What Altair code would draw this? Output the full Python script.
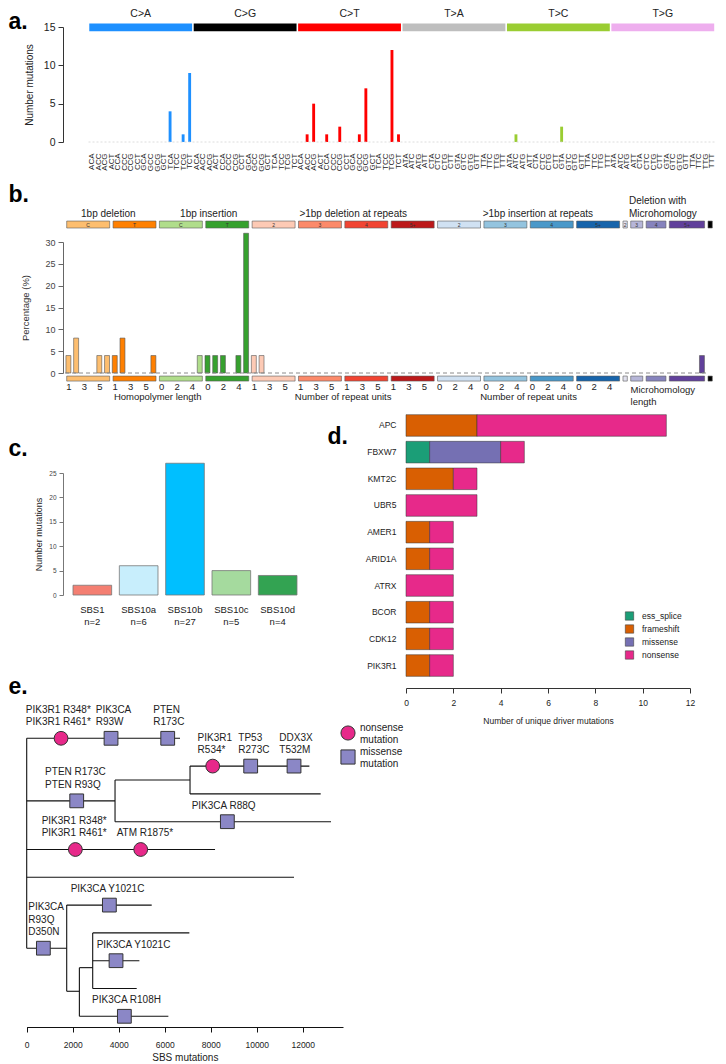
import altair as alt
import pandas as pd

FONT = "Liberation Sans"
TXT = "#222222"

# ================= a. SBS96 profile =================
sbs_types = ["C>A", "C>G", "C>T", "T>A", "T>C", "T>G"]
sbs_colors = ["#1E90FF", "#000000", "#FF0000", "#BEBEBE", "#9ACD32", "#EEAEEE"]
flank_bases = ["A", "C", "G", "T"]
sbs_CA = [0, 0, 0, 0, 0, 0, 0, 0, 0, 0, 0, 0, 4, 0, 1, 9]
sbs_CG = [0, 0, 0, 0, 0, 0, 0, 0, 0, 0, 0, 0, 0, 0, 0, 0]
sbs_CT = [0, 1, 5, 0, 1, 0, 2, 0, 0, 1, 7, 0, 0, 0, 12, 1]
sbs_TA = [0, 0, 0, 0, 0, 0, 0, 0, 0, 0, 0, 0, 0, 0, 0, 0]
sbs_TC = [0, 1, 0, 0, 0, 0, 0, 0, 2, 0, 0, 0, 0, 0, 0, 0]
sbs_TG = [0, 0, 0, 0, 0, 0, 0, 0, 0, 0, 0, 0, 0, 0, 0, 0]

# ================= b. ID83 profile =================
id_groups = ["del1_C", "del1_T", "ins1_C", "ins1_T", "delr_2", "delr_3", "delr_4", "delr_5",
             "insr_2", "insr_3", "insr_4", "insr_5", "mh_2", "mh_3", "mh_4", "mh_5"]
id_box_text = ["C", "T", "C", "T", "2", "3", "4", "5+", "2", "3", "4", "5+", "2", "3", "4", "5+"]
id_colors = ["#FDBE6F", "#FF8001", "#B0DD8B", "#36A12E", "#FDCAB5", "#FC8A6A", "#F14432", "#BC191A",
             "#D0E1F2", "#94C4DF", "#4A98C9", "#1764AB", "#E2E2EF", "#B6B6D8", "#8683BD", "#61409B"]
id_is_deletion = [True, True, False, False, True, True, True, True,
                  False, False, False, False, True, True, True, True]
id_pct = [
    [4, 8, 0, 0, 4, 4],
    [4, 8, 0, 0, 0, 4],
    [0, 0, 0, 0, 0, 4],
    [4, 4, 4, 0, 4, 32],
    [4, 4, 0, 0, 0, 0],
    [0, 0, 0, 0, 0, 0],
    [0, 0, 0, 0, 0, 0],
    [0, 0, 0, 0, 0, 0],
    [0, 0, 0, 0, 0, 0],
    [0, 0, 0, 0, 0, 0],
    [0, 0, 0, 0, 0, 0],
    [0, 0, 0, 0, 0, 0],
    [0],
    [0, 0],
    [0, 0, 0],
    [0, 0, 0, 0, 4],
]
id_group_titles = ["1bp deletion", "1bp insertion", ">1bp deletion at repeats", ">1bp insertion at repeats"]
id_group_title_x = [5.6, 18.6, 37.3, 61.2]
id_axis_titles = ["Homopolymer length", "Number of repeat units", "Number of repeat units"]
id_axis_title_x = [12, 36, 60]

# ================= c. signature contributions =================
c_sigs = ["SBS1", "SBS10a", "SBS10b", "SBS10c", "SBS10d"]
c_counts = [2, 6, 27, 5, 4]
c_colors = ["#F47F72", "#C8EEFC", "#00BFFF", "#A5DA9E", "#33A352"]

# ================= d. driver mutations =================
genes = ["APC", "FBXW7", "KMT2C", "UBR5", "AMER1", "ARID1A", "ATRX", "BCOR", "CDK12", "PIK3R1"]
drv_types = ["ess_splice", "frameshift", "missense", "nonsense"]
drv_colors = ["#1B9E77", "#D95F02", "#7570B3", "#E7298A"]
drv_ess_splice = [0, 1, 0, 0, 0, 0, 0, 0, 0, 0]
drv_frameshift = [3, 0, 2, 0, 1, 1, 0, 1, 1, 1]
drv_missense = [0, 3, 0, 0, 0, 0, 0, 0, 0, 0]
drv_nonsense = [8, 1, 1, 3, 1, 1, 2, 1, 1, 1]

# ================= e. phylogenetic tree =================
e_h_start = [0, 0, 3840, 7100, 7100, 3840, 0, 0, 0, 1739, 1739, 2290, 2869, 2869, 2869, 2290]
e_h_end = [6666, 3840, 7100, 12288, 12780, 13230, 8187, 11621, 1739, 5434, 2290, 2869, 7071, 4898, 4782, 6158]
e_h_row = [0, 2.25, 1.5, 1, 2, 3, 4, 5, 7.55, 6, 9.1, 8.25, 7, 8, 9, 10]
e_v_pos = [0, 3840, 7100, 1739, 2290, 2869]
e_v_from = [0, 1.5, 1, 6, 8.25, 7]
e_v_to = [7.55, 3, 2, 9.1, 10, 9]
e_mut_pos = [1493, 3666, 6130, 2174, 8086, 9737, 11621, 8723, 2116, 4956, 725, 3594, 3883, 4246]
e_mut_row = [0, 0, 0, 2.25, 1, 1, 1, 3, 4, 4, 7.55, 6, 8, 10]
e_mut_type = ["nonsense", "missense", "missense", "missense", "nonsense", "missense", "missense",
              "missense", "nonsense", "nonsense", "missense", "missense", "missense", "missense"]
e_label_text = ["PIK3R1 R348*\nPIK3R1 R461*", "PIK3CA\nR93W", "PTEN\nR173C", "PIK3R1\nR534*",
                "TP53\nR273C", "DDX3X\nT532M", "PTEN R173C\nPTEN R93Q", "PIK3CA R88Q",
                "PIK3R1 R348*\nPIK3R1 R461*", "ATM R1875*", "PIK3CA Y1021C", "PIK3CA\nR93Q\nD350N",
                "PIK3CA Y1021C", "PIK3CA R108H"]
e_label_pos = [-40, 3000, 5500, 7430, 9200, 10980, 800, 7170, 650, 3910, 1910, 70, 3040, 2840]
e_label_row = [0, 0, 0, 1, 1, 1, 2.25, 3, 4, 4, 6, 7.55, 8, 10]

# ---------------------------------------------------------------------------
# One canvas: every panel has its own scales whose pixel ranges place it on the
# page (origin = left edge of the y axes of panels a-c, top of panel a's plot).
W, H = 652, 1000
LETTER = dict(titleAngle=0, titleAlign="left", titleBaseline="top", titleFontSize=23,
              titleFontWeight="bold", titleColor="#000000", titleFont=FONT)

# ---------- a ----------
sbs_all = [sbs_CA, sbs_CG, sbs_CT, sbs_TA, sbs_TC, sbs_TG]
a_rows, contexts = [], []
for ti, (mt, cnts) in enumerate(zip(sbs_types, sbs_all)):
    for k, c in enumerate(cnts):
        ctx = flank_bases[k // 4] + mt[0] + flank_bases[k % 4]
        contexts.append(ctx)
        i = ti * 16 + k
        a_rows.append({"ctx": ctx, "type": mt, "n": c, "z": 0, "xs": i + 0.28, "xe": i + 0.72})
df_a = pd.DataFrame(a_rows)
df_a_bars = df_a[df_a["n"] > 0]
df_a_head = pd.DataFrame({
    "type": sbs_types,
    "xs": [16 * i + 0.12 for i in range(6)],
    "xe": [16 * i + 15.88 for i in range(6)],
    "mid": [16 * i + 8 for i in range(6)],
    "y1": [14.45] * 6, "y2": [15.45] * 6, "ly": [16.75] * 6,
})
df_a_base = pd.DataFrame({"xs": [0], "xe": [96], "y": [0]})

xa = alt.Scale(domain=[0, 96], range=[25.5, 652], nice=False, zero=False)
ya = alt.Scale(domain=[0, 15], range=[115, 0], nice=False, zero=False)
cola = alt.Scale(domain=sbs_types, range=sbs_colors)
ctx_expr = "[" + ",".join("'%s'" % c for c in contexts) + "][floor(datum.value)]"

a_bars = alt.Chart(df_a_bars).mark_rect().encode(
    x=alt.X("xs:Q", scale=xa, axis=alt.Axis(
        orient="bottom", offset=115 - H, values=[i + 0.5 for i in range(96)], labelExpr=ctx_expr,
        labelAngle=270, labelFontSize=8, labelPadding=11, labelOverlap=False, labelFlush=False,
        domain=False, ticks=False, grid=False, title="a.", titleX=-55, titleY=-132, **LETTER)),
    x2="xe:Q",
    y=alt.Y("n:Q", scale=ya, axis=alt.Axis(
        orient="left", values=[0, 5, 10, 15], tickSize=5, labelFontSize=10.5, labelPadding=3,
        labelOverlap=False, title="Number mutations", titleFontSize=10, titlePadding=9, grid=False)),
    y2="z:Q",
    color=alt.Color("type:N", scale=cola, legend=None))
a_baseline = alt.Chart(df_a_base).mark_rule(color="#d4d4d4", strokeDash=[2, 2], strokeWidth=0.8).encode(
    x=alt.X("xs:Q", scale=xa, axis=None), x2="xe:Q", y=alt.Y("y:Q", scale=ya, axis=None))
a_head = alt.Chart(df_a_head).mark_rect().encode(
    x=alt.X("xs:Q", scale=xa, axis=None), x2="xe:Q",
    y=alt.Y("y1:Q", scale=ya, axis=None), y2="y2:Q",
    color=alt.Color("type:N", scale=cola, legend=None))
a_head_txt = alt.Chart(df_a_head).mark_text(fontSize=10.5, color=TXT).encode(
    x=alt.X("mid:Q", scale=xa, axis=None), y=alt.Y("ly:Q", scale=ya, axis=None), text="type:N")

# ---------- b ----------
gstart, s = [], 0
for vals in id_pct:
    gstart.append(s)
    s += len(vals)
n_slots = s  # 83
box_rows = []
for g in range(len(id_groups)):
    st, sz = gstart[g], len(id_pct[g])
    for y1, y2 in [(33.2, 34.8), (-0.7, -1.85)]:
        box_rows.append({"g": id_groups[g], "xs": st + 0.22, "xe": st + sz - 0.22, "y1": y1, "y2": y2})
for y1, y2 in [(33.2, 34.8), (-0.7, -1.85)]:
    box_rows.append({"g": "end", "xs": n_slots + 0.22, "xe": n_slots + 0.78, "y1": y1, "y2": y2})
df_b_box = pd.DataFrame(box_rows)
df_b_boxtxt = pd.DataFrame({"t": id_box_text,
                            "x": [gstart[g] + len(id_pct[g]) / 2 for g in range(len(id_groups))],
                            "y": [34.0] * len(id_groups)})
bar_rows = []
for g, vals in enumerate(id_pct):
    for k, v in enumerate(vals):
        sl = gstart[g] + k
        bar_rows.append({"g": id_groups[g], "v": v, "z": 0, "xs": sl + 0.12, "xe": sl + 0.76})
df_b_bars = pd.DataFrame(bar_rows)
df_b_bars = df_b_bars[df_b_bars["v"] > 0]
tick_rows = []
for g in range(12):
    for k in (0, 2, 4):
        tick_rows.append({"t": str(k + 1) if id_is_deletion[g] else str(k),
                          "x": gstart[g] + k + 0.5, "y": -3.15})
df_b_ticks = pd.DataFrame(tick_rows)
df_b_gt = pd.DataFrame({"t": id_group_titles, "x": id_group_title_x, "y": [36.5] * 4})
df_b_mh = pd.DataFrame({"t": ["Deletion with", "Microhomology"], "x": [73.0, 73.0], "y": [39.4, 36.5]})
df_b_at = pd.DataFrame({"t": id_axis_titles, "x": id_axis_title_x, "y": [-5.6] * 3})
df_b_mhat = pd.DataFrame({"t": ["Microhomology", "length"], "x": [73.2, 73.2], "y": [-3.9, -6.6]})
df_b_zero = pd.DataFrame({"xs": [0], "xe": [n_slots], "y": [0]})

xb = alt.Scale(domain=[0, 84], range=[2, 651], nice=False, zero=False)
yb = alt.Scale(domain=[0, 30], range=[346, 215], nice=False, zero=False)
colb = alt.Scale(domain=id_groups + ["end"], range=id_colors + ["#000000"])

b_bars = alt.Chart(df_b_bars).mark_rect(stroke="#555", strokeWidth=0.6).encode(
    x=alt.X("xs:Q", scale=xb, axis=alt.Axis(
        orient="bottom", offset=346 - H, labels=False, ticks=False, domain=False, grid=False,
        title="b.", titleX=-55, titleY=-189.7, **LETTER)),
    x2="xe:Q",
    y=alt.Y("v:Q", scale=yb, axis=alt.Axis(
        orient="left", values=[0, 5, 10, 15, 20, 25, 30], tickSize=5, labelFontSize=9, labelPadding=3,
        labelOverlap=False, labelColor="#444", domainColor="#666", tickColor="#666", grid=False,
        title="Percentage (%)", titleFontSize=9.5, titlePadding=14, titleColor="#333")),
    y2="z:Q",
    color=alt.Color("g:N", scale=colb, legend=None))
b_zero = alt.Chart(df_b_zero).mark_rule(color="#8a8a8a", strokeDash=[4, 3], strokeWidth=1).encode(
    x=alt.X("xs:Q", scale=xb, axis=None), x2="xe:Q", y=alt.Y("y:Q", scale=yb, axis=None))
b_box = alt.Chart(df_b_box).mark_rect(stroke="#5a5a5a", strokeWidth=0.6).encode(
    x=alt.X("xs:Q", scale=xb, axis=None), x2="xe:Q", y=alt.Y("y1:Q", scale=yb, axis=None), y2="y2:Q",
    color=alt.Color("g:N", scale=colb, legend=None))


def b_text(df, size, align="center", color=TXT):
    return alt.Chart(df).mark_text(fontSize=size, color=color, align=align).encode(
        x=alt.X("x:Q", scale=xb, axis=None), y=alt.Y("y:Q", scale=yb, axis=None), text="t:N")


# ---------- c ----------
c_labels = ["%s|n=%d" % (sg, n) for sg, n in zip(c_sigs, c_counts)]
df_c = pd.DataFrame({"lab": c_labels, "n": c_counts})
c_bars = alt.Chart(df_c).mark_bar(stroke="#777", strokeWidth=0.8).encode(
    x=alt.X("lab:N", scale=alt.Scale(domain=c_labels, range=[0, 244], paddingInner=0.166, paddingOuter=0.216),
            axis=alt.Axis(orient="bottom", offset=568 - H, labelExpr="split(datum.label, '|')", labelAngle=0,
                          labelFontSize=9.5, labelPadding=9, labelLineHeight=12, domain=False, ticks=False,
                          grid=False, title="c.", titleX=-55, titleY=-157.2, **LETTER)),
    y=alt.Y("n:Q", scale=alt.Scale(domain=[0, 25], range=[568, 446], nice=False, zero=False),
            axis=alt.Axis(orient="left", values=[0, 5, 10, 15, 20, 25], tickSize=4, labelFontSize=6.5,
                          labelPadding=3, labelColor="#444", domainColor="#777", tickColor="#777", grid=False,
                          title="Number mutations", titleFontSize=9, titlePadding=5)),
    y2=alt.datum(0),
    color=alt.Color("lab:N", scale=alt.Scale(domain=c_labels, range=c_colors), legend=None))

# ---------- d ----------
d_rows = []
for gi, gname in enumerate(genes):
    for ti, (tname, arr) in enumerate(zip(drv_types, [drv_ess_splice, drv_frameshift, drv_missense, drv_nonsense])):
        if arr[gi] > 0:
            d_rows.append({"gene": gname, "type": tname, "n": arr[gi], "ord": ti})
df_d = pd.DataFrame(d_rows)
d_bars = alt.Chart(df_d).mark_bar(stroke="#333", strokeWidth=0.5).encode(
    y=alt.Y("gene:N", scale=alt.Scale(domain=genes, range=[385, 652], paddingInner=0.19, paddingOuter=0.1),
            axis=alt.Axis(orient="left", offset=-343, domain=False, ticks=False, labelPadding=10,
                          labelFontSize=8.5, grid=False, title="d.", titleX=-79, titleY=398.6, **LETTER)),
    x=alt.X("n:Q", stack="zero", scale=alt.Scale(domain=[0, 12], range=[343, 627], nice=False),
            axis=alt.Axis(orient="bottom", offset=661 - H, values=[0, 2, 4, 6, 8, 10, 12], tickSize=5,
                          labelFontSize=8.5, labelPadding=5, labelFlush=False, grid=False,
                          title="Number of unique driver mutations", titleFontSize=8.5, titlePadding=10)),
    color=alt.Color("type:N", scale=alt.Scale(domain=drv_types, range=drv_colors),
                    legend=alt.Legend(title=None, orient="none", legendX=562, legendY=584.5,
                                      symbolType="square", symbolSize=70, labelFontSize=8.5,
                                      rowPadding=2, labelOffset=8, symbolStrokeColor="#444",
                                      symbolStrokeWidth=0.6)),
    order=alt.Order("ord:Q"))

# ---------- e ----------
seg_rows = []
for a_, b_, r in zip(e_h_start, e_h_end, e_h_row):
    seg_rows.append({"x": a_, "x2": b_, "y": r, "y2": r})
for p, r1, r2 in zip(e_v_pos, e_v_from, e_v_to):
    seg_rows.append({"x": p, "x2": p, "y": r1, "y2": r2})
df_seg = pd.DataFrame(seg_rows)
df_mut = pd.DataFrame({"x": e_mut_pos, "y": e_mut_row, "mtype": e_mut_type})
df_lab = pd.DataFrame({
    "t": e_label_text, "x": e_label_pos,
    "y": [r - 0.40 - 0.446 * t.count("\n") for r, t in zip(e_label_row, e_label_text)]})

xe = alt.Scale(domain=[0, 13750], range=[-36.3, 280], nice=False, zero=False)
ye = alt.Scale(domain=[0, 10], range=[711.3, 989.3], nice=False, zero=False)
legE = alt.Legend(title=None, orient="none", legendX=277, legendY=698,
                  labelExpr="[datum.label, 'mutation']", labelFontSize=10, symbolSize=200,
                  labelBaseline="bottom", rowPadding=2, labelOffset=4,
                  symbolStrokeColor="#333", symbolStrokeWidth=1)
e_lines = alt.Chart(df_seg).mark_rule(color="#111", strokeWidth=1.1).encode(
    x=alt.X("x:Q", scale=xe, axis=alt.Axis(
        orient="bottom", offset=0, values=[0, 2000, 4000, 6000, 8000, 10000, 12000], tickSize=5,
        labelFontSize=8.5, labelPadding=8, labelFlush=False, labelOverlap=False, title="SBS mutations",
        titleFontSize=10, titlePadding=4, grid=False, domainColor="#111", tickColor="#111", format="d")),
    x2="x2:Q",
    y=alt.Y("y:Q", scale=ye, axis=alt.Axis(
        orient="left", labels=False, ticks=False, domain=False, grid=False,
        title="e.", titleX=-55, titleY=648.8, **LETTER)),
    y2="y2:Q")
e_pts = alt.Chart(df_mut).mark_point(filled=True, size=190, opacity=1, stroke="#333", strokeWidth=1).encode(
    x=alt.X("x:Q", scale=xe, axis=None), y=alt.Y("y:Q", scale=ye, axis=None),
    color=alt.Color("mtype:N", scale=alt.Scale(domain=["nonsense", "missense"], range=["#E7298A", "#8B87C6"]),
                    legend=legE),
    shape=alt.Shape("mtype:N", scale=alt.Scale(domain=["nonsense", "missense"], range=["circle", "square"]),
                    legend=legE))
e_txt = alt.Chart(df_lab).mark_text(align="left", baseline="bottom", lineBreak="\n", lineHeight=12.4,
                                    fontSize=10, color=TXT).encode(
    x=alt.X("x:Q", scale=xe, axis=None), y=alt.Y("y:Q", scale=ye, axis=None), text="t:N")

chart = alt.layer(
    a_bars, a_baseline, a_head, a_head_txt,
    b_bars, b_zero, b_box, b_text(df_b_boxtxt, 5, color="#333"), b_text(df_b_gt, 10),
    b_text(df_b_mh, 10, "left"), b_text(df_b_ticks, 9.5), b_text(df_b_at, 9.5),
    b_text(df_b_mhat, 9.5, "left"),
    c_bars, d_bars,
    e_lines, e_pts, e_txt,
).resolve_scale(
    x="independent", y="independent", color="independent", shape="independent"
).resolve_axis(x="independent", y="independent").properties(
    width=W, height=H, padding=0
).configure(font=FONT).configure_view(stroke=None).configure_axis(
    labelFont=FONT, titleFont=FONT, labelColor=TXT, titleColor=TXT, titleFontWeight="normal",
    grid=False, domainColor="#333", tickColor="#333",
).configure_legend(labelFont=FONT, labelColor=TXT)

chart.save("out.html", embed_options={"renderer": "svg", "actions": False})
